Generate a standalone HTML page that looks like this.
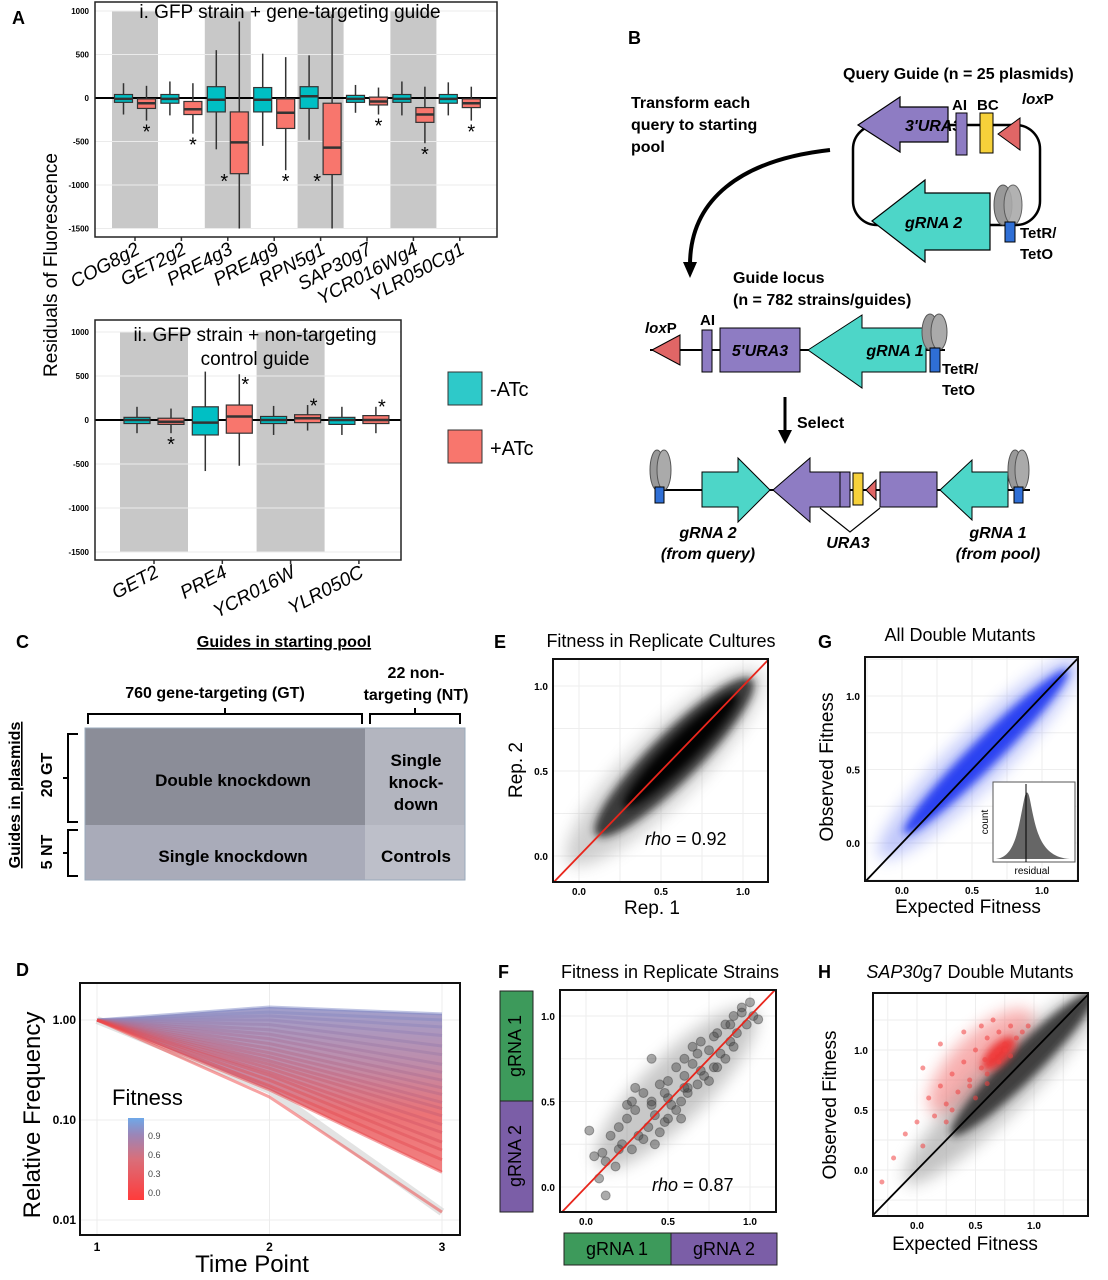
<!DOCTYPE html>
<html><head><meta charset="utf-8"><style>
html,body{margin:0;padding:0;background:#fff;width:1108px;height:1280px;overflow:hidden;}
svg{display:block;font-family:"Liberation Sans",Arial,sans-serif;}
</style></head><body>
<svg id="fig" width="1108" height="1280" viewBox="0 0 1108 1280" xmlns="http://www.w3.org/2000/svg">
<defs>
<filter id="blur4" x="-50%" y="-50%" width="200%" height="200%"><feGaussianBlur stdDeviation="4"/></filter>
<filter id="blur8" x="-50%" y="-50%" width="200%" height="200%"><feGaussianBlur stdDeviation="8"/></filter>
<linearGradient id="cbar" x1="0" y1="1" x2="0" y2="0"><stop offset="0" stop-color="#ff3b3b"/><stop offset="0.5" stop-color="#d96f7a"/><stop offset="0.8" stop-color="#9a86b8"/><stop offset="1" stop-color="#6fa8e8"/></linearGradient>
<linearGradient id="fanG" x1="0" y1="0" x2="0" y2="1"><stop offset="0" stop-color="#8f8fc4"/><stop offset="0.35" stop-color="#b4789a"/><stop offset="0.65" stop-color="#e85a5e"/><stop offset="1" stop-color="#f06a6a"/></linearGradient>
</defs>

<g font-weight="bold" font-size="18">
<text x="12" y="24">A</text><text x="628" y="44">B</text><text x="16" y="648">C</text>
<text x="16" y="976">D</text><text x="494" y="648">E</text><text x="498" y="978">F</text>
<text x="818" y="648">G</text><text x="818" y="978">H</text>
</g>

<g id="panelA"></g>
<text x="57" y="265" font-size="19" text-anchor="middle" transform="rotate(-90 57 265)">Residuals of Fluorescence</text>
<rect x="448" y="372" width="34" height="33" fill="#2ec9c9" stroke="#333"/>
<text x="490" y="396" font-size="20">-ATc</text>
<rect x="448" y="430" width="34" height="33" fill="#f8766d" stroke="#333"/>
<text x="490" y="455" font-size="20">+ATc</text>

<g id="panelB" font-weight="bold">
<text x="843" y="79" font-size="16">Query Guide (n = 25 plasmids)</text>
<text x="631" y="108" font-size="16">Transform each</text>
<text x="631" y="130" font-size="16">query to starting</text>
<text x="631" y="152" font-size="16">pool</text>
<rect x="853" y="125" width="187" height="100" rx="24" fill="none" stroke="#000" stroke-width="2.5"/>
<polygon points="858,125 900,97 900,107 948,107 948,142 900,142 900,152" fill="#8e7cc3" stroke="#000" stroke-width="1.2"/>
<text x="905" y="131" font-size="16" font-style="italic">3'URA3</text>
<rect x="956" y="113" width="11" height="42" fill="#8e7cc3" stroke="#000"/>
<text x="952" y="110" font-size="15">AI</text>
<rect x="980" y="113" width="13" height="40" fill="#f6d13a" stroke="#000"/>
<text x="977" y="110" font-size="15">BC</text>
<polygon points="998,134 1020,118 1020,150" fill="#e06666" stroke="#000"/>
<text x="1022" y="104" font-size="15"><tspan font-style="italic">lox</tspan>P</text>
<polygon points="872,221 925,180 925,193 990,193 990,250 925,250 925,262" fill="#4dd6c8" stroke="#000" stroke-width="1.2"/>
<text x="905" y="228" font-size="16" font-style="italic">gRNA 2</text>
<ellipse cx="1003" cy="205" rx="9" ry="20" fill="#999" stroke="#555"/><ellipse cx="1013" cy="205" rx="9" ry="20" fill="#aaa" stroke="#555" opacity="0.9"/>
<rect x="1005" y="222" width="10" height="20" fill="#2f6fd6" stroke="#000"/>
<text x="1020" y="238" font-size="15">TetR/</text><text x="1020" y="259" font-size="15">TetO</text>
<path d="M830,150 C740,160 690,200 690,265" fill="none" stroke="#000" stroke-width="4"/>
<polygon points="683,262 697,262 690,278" fill="#000"/>
<text x="733" y="283" font-size="16">Guide locus</text>
<text x="733" y="305" font-size="16">(n = 782 strains/guides)</text>
<line x1="650" y1="350" x2="945" y2="350" stroke="#000" stroke-width="2"/>
<polygon points="652,350 680,335 680,365" fill="#e06666" stroke="#000"/>
<text x="645" y="333" font-size="15"><tspan font-style="italic">lox</tspan>P</text>
<text x="700" y="325" font-size="15">AI</text>
<rect x="702" y="330" width="10" height="42" fill="#8e7cc3" stroke="#000"/>
<rect x="720" y="328" width="80" height="44" fill="#8e7cc3" stroke="#000"/>
<text x="760" y="356" font-size="16" font-style="italic" text-anchor="middle">5'URA3</text>
<polygon points="808,350 862,315 862,328 926,328 926,372 862,372 862,388" fill="#4dd6c8" stroke="#000"/>
<text x="895" y="356" font-size="16" font-style="italic" text-anchor="middle">gRNA 1</text>
<ellipse cx="930" cy="332" rx="8" ry="18" fill="#999" stroke="#555"/><ellipse cx="939" cy="332" rx="8" ry="18" fill="#aaa" stroke="#555"/>
<rect x="930" y="348" width="10" height="24" fill="#2f6fd6" stroke="#000"/>
<text x="942" y="374" font-size="15">TetR/</text><text x="942" y="395" font-size="15">TetO</text>
<line x1="785" y1="397" x2="785" y2="432" stroke="#000" stroke-width="3"/>
<polygon points="778,430 792,430 785,444" fill="#000"/>
<text x="797" y="428" font-size="16">Select</text>
<line x1="660" y1="490" x2="1030" y2="490" stroke="#000" stroke-width="2"/>
<ellipse cx="657" cy="470" rx="7" ry="20" fill="#999" stroke="#555"/><ellipse cx="664" cy="470" rx="7" ry="20" fill="#aaa" stroke="#555"/>
<rect x="655" y="487" width="9" height="16" fill="#2f6fd6" stroke="#000"/>
<polygon points="702,472 738,472 738,458 770,490 738,522 738,507 702,507" fill="#4dd6c8" stroke="#000"/>
<polygon points="773,490 810,458 810,472 848,472 848,507 810,507 810,522" fill="#8e7cc3" stroke="#000"/>
<rect x="840" y="472" width="10" height="35" fill="#8e7cc3" stroke="#000"/>
<rect x="853" y="473" width="10" height="32" fill="#f6d13a" stroke="#000"/>
<polygon points="866,490 876,480 876,500" fill="#e06666" stroke="#000"/>
<rect x="880" y="472" width="57" height="35" fill="#8e7cc3" stroke="#000"/>
<polygon points="940,490 972,460 972,472 1008,472 1008,507 972,507 972,520" fill="#4dd6c8" stroke="#000"/>
<ellipse cx="1015" cy="470" rx="7" ry="20" fill="#999" stroke="#555"/><ellipse cx="1022" cy="470" rx="7" ry="20" fill="#aaa" stroke="#555"/>
<rect x="1014" y="487" width="9" height="16" fill="#2f6fd6" stroke="#000"/>
<polyline points="820,508 850,532 880,508" fill="none" stroke="#000" stroke-width="1.2"/>
<text x="848" y="548" font-size="16" font-style="italic" text-anchor="middle">URA3</text>
<text x="708" y="538" font-size="16" font-style="italic" text-anchor="middle">gRNA 2</text>
<text x="708" y="559" font-size="16" font-style="italic" text-anchor="middle">(from query)</text>
<text x="998" y="538" font-size="16" font-style="italic" text-anchor="middle">gRNA 1</text>
<text x="998" y="559" font-size="16" font-style="italic" text-anchor="middle">(from pool)</text>
</g>

<g font-weight="bold">
<text x="284" y="647" font-size="16" text-anchor="middle" text-decoration="underline">Guides in starting pool</text>
<text x="215" y="698" font-size="16" text-anchor="middle">760 gene-targeting (GT)</text>
<text x="416" y="678" font-size="16" text-anchor="middle">22 non-</text>
<text x="416" y="700" font-size="16" text-anchor="middle">targeting (NT)</text>
<path d="M88,724 v-10 h274 v10 M225,714 v-6 M370,724 v-10 h90 v10 M415,714 v-6" fill="none" stroke="#000" stroke-width="2"/>
<rect x="85" y="728" width="280" height="97" fill="#8b8d98"/>
<rect x="365" y="728" width="100" height="97" fill="#b3b5bf"/>
<rect x="85" y="825" width="280" height="55" fill="#a9abb9"/>
<rect x="365" y="825" width="100" height="55" fill="#bdbfc9"/>
<rect x="85" y="728" width="380" height="152" fill="none" stroke="#9ab" stroke-width="1"/>
<text x="233" y="786" font-size="17" text-anchor="middle">Double knockdown</text>
<text x="416" y="766" font-size="17" text-anchor="middle">Single</text>
<text x="416" y="788" font-size="17" text-anchor="middle">knock-</text>
<text x="416" y="810" font-size="17" text-anchor="middle">down</text>
<text x="233" y="862" font-size="17" text-anchor="middle">Single knockdown</text>
<text x="416" y="862" font-size="17" text-anchor="middle">Controls</text>
<text x="20" y="795" font-size="16" text-anchor="middle" text-decoration="underline" transform="rotate(-90 20 795)">Guides in plasmids</text>
<text x="52" y="775" font-size="16" text-anchor="middle" transform="rotate(-90 52 775)">20 GT</text>
<text x="52" y="852" font-size="16" text-anchor="middle" transform="rotate(-90 52 852)">5 NT</text>
<path d="M78,734 h-10 v88 h10 M68,778 h-5 M78,830 h-10 v46 h10 M68,853 h-5" fill="none" stroke="#000" stroke-width="2"/>
</g>

<g id="panelD"></g>
<g id="panelE"></g>
<g id="panelG"></g>
<g id="panelF"></g>
<g id="panelH"></g>
</svg>

<script>
// ---------------- Panel A data ----------------
const genesA = ["COG8g2","GET2g2","PRE4g3","PRE4g9","RPN5g1","SAP30g7","YCR016Wg4","YLR050Cg1"];
const cyanQ1 = [-50,-60,-160,-160,-120,-50,-50,-60];
const cyanMed = [-10,-10,-20,-20,20,-10,-10,-10];
const cyanQ3 = [40,40,130,120,130,30,40,40];
const cyanLo = [-190,-200,-590,-550,-480,-170,-200,-200];
const cyanHi = [170,190,550,510,490,150,190,180];
const redQ1 = [-120,-190,-870,-350,-880,-80,-280,-110];
const redMed = [-60,-130,-510,-170,-570,-40,-190,-60];
const redQ3 = [-10,-40,-160,-10,-60,10,-110,-10];
const redLo = [-260,-410,-1500,-830,-1500,-190,-520,-260];
const redHi = [140,170,880,470,960,120,130,130];

const genesA2 = ["GET2","PRE4","YCR016W","YLR050C"];
const cyan2Q1 = [-40,-170,-40,-50];
const cyan2Med = [0,-30,0,0];
const cyan2Q3 = [30,150,40,30];
const cyan2Lo = [-150,-580,-170,-170];
const cyan2Hi = [150,550,160,150];
const red2Q1 = [-50,-150,-30,-40];
const red2Med = [-20,40,20,0];
const red2Q3 = [20,170,60,50];
const red2Lo = [-150,-520,-120,-150];
const red2Hi = [130,520,170,150];
const red2StarAbove = [false,true,true,true];
const ticksA = [1000,500,0,-500,-1000,-1500];

// ---------------- Panel D data ----------------
const fitD = [1.0,0.95,0.9,0.85,0.8,0.75,0.7,0.65,0.6,0.55,0.5,0.45,0.4,0.35,0.3,0.25,0.2,0.15,0.1,0.05,0.0];
const freqT2 = [1.35,1.2,1.1,1.0,0.9,0.8,0.72,0.65,0.58,0.52,0.47,0.43,0.39,0.36,0.33,0.3,0.28,0.25,0.22,0.2,0.17];
const freqT3 = [1.15,1.0,0.85,0.7,0.55,0.45,0.36,0.3,0.25,0.21,0.18,0.15,0.13,0.11,0.09,0.075,0.06,0.05,0.04,0.03,0.012];
const ticksDy = [1.0,0.1,0.01];
const tickDyLabels = ["1.00","0.10","0.01"];
const ticksDx = [1,2,3];

// ---------------- Scatter data ----------------
const ticks01 = [0.0,0.5,1.0];
const tickLabels01 = ["0.0","0.5","1.0"];
const fX = [0.02,0.05,0.08,0.1,0.12,0.15,0.18,0.2,0.22,0.25,0.28,0.3,0.32,0.35,0.38,0.4,0.42,0.45,0.48,0.5,0.52,0.55,0.58,0.6,0.62,0.65,0.68,0.7,0.72,0.75,0.78,0.8,0.82,0.85,0.88,0.9,0.92,0.95,0.98,1.0,1.02,0.3,0.45,0.55,0.65,0.75,0.4,0.6,0.7,0.85,0.5,0.35,0.25,0.62,0.78,0.9,0.58,0.48,0.68,0.8,0.12,0.2,0.28,0.4,0.5,0.6,0.95,1.05,0.88,0.42];
const fY = [0.33,0.18,0.05,0.2,0.15,0.3,0.12,0.35,0.25,0.4,0.22,0.45,0.3,0.55,0.35,0.5,0.42,0.6,0.38,0.62,0.48,0.7,0.5,0.75,0.55,0.72,0.6,0.85,0.65,0.8,0.7,0.9,0.78,0.95,0.85,1.0,0.9,1.05,0.95,1.08,1.0,0.58,0.32,0.45,0.82,0.62,0.48,0.65,0.68,0.75,0.52,0.28,0.48,0.58,0.88,0.82,0.4,0.55,0.78,0.7,-0.05,0.22,0.5,0.75,0.4,0.58,1.02,0.98,0.95,0.25];
const hRedX = [-0.3,-0.2,-0.1,0.0,0.05,0.1,0.15,0.2,0.25,0.3,0.35,0.4,0.45,0.5,0.55,0.6,0.65,0.7,0.75,0.8,0.85,0.9,0.95,0.3,0.45,0.55,0.6,0.7,0.8,0.65,0.05,0.2,0.4,0.5,0.6,0.7,0.75,0.68,0.58,0.25];
const hRedY = [-0.1,0.1,0.3,0.4,0.2,0.6,0.45,0.7,0.55,0.8,0.65,0.9,0.75,1.0,0.85,1.1,0.95,1.15,1.05,1.2,1.1,1.15,1.2,0.5,0.7,1.2,0.8,1.0,0.95,1.25,0.85,1.05,1.15,0.6,0.72,0.9,1.0,0.98,0.92,0.4];

const NS='http://www.w3.org/2000/svg';
function mk(parent, tag, attrs, txt){const e=document.createElementNS(NS,tag);for(const k in attrs)e.setAttribute(k,attrs[k]);if(txt!==undefined)e.textContent=txt;parent.appendChild(e);return e;}
const linear=(d0,d1,r0,r1)=>v=>r0+(v-d0)*(r1-r0)/(d1-d0);
const defs=document.querySelector('defs');

// ---------- Panel A ----------
(function(){
  const g=document.getElementById('panelA');
  const y=linear(0,1000,98,11);
  const x0=95,x1=497,yTop=2,yBot=237;
  let e=mk(g,'rect',{x:x0,y:yTop,width:x1-x0,height:yBot-yTop,fill:'#fff'});
  
  
  const cx=i=>135+i*46.4;
  genesA.forEach((n,i)=>{ if(i%2===0){
    e=mk(g,'rect',{x:cx(i)-23,y:y(1000),width:46,height:y(-1500)-y(1000),fill:'#c8c8c8'});
    
    
  }});
  ticksA.forEach(t=>{
    e=mk(g,'line',{x1:x0,x2:x1,y1:y(t),y2:y(t),stroke:'#ebebeb'});
    
    
    e=mk(g,'text',{x:x0-6,y:y(t)+3,'font-size':8,'text-anchor':'end','font-weight':'bold'},String(t));
    
    
  });
  e=mk(g,'line',{x1:x0,x2:x1,y1:y(0),y2:y(0),stroke:'#000','stroke-width':2});
  
  
  function box(c,q1,m,q3,lo,hi,fill,w){
    let b=mk(g,'line',{x1:c,x2:c,y1:y(hi),y2:y(lo),stroke:'#333','stroke-width':1.5});
    
    
    b=mk(g,'rect',{x:c-w/2,y:y(q3),width:w,height:y(q1)-y(q3),fill:fill,stroke:'#333','stroke-width':1.2});
    
    
    b=mk(g,'line',{x1:c-w/2,x2:c+w/2,y1:y(m),y2:y(m),stroke:'#333','stroke-width':2.5});
    
    
  }
  genesA.forEach((n,i)=>{
    box(cx(i)-11.5,cyanQ1[i],cyanMed[i],cyanQ3[i],cyanLo[i],cyanHi[i],'#00bfc4',18);
    box(cx(i)+11.5,redQ1[i],redMed[i],redQ3[i],redLo[i],redHi[i],'#f8766d',18);
    let s=mk(g,'text',{x:cx(i)+11.5 - (redLo[i]<=-1500?15:0),y:Math.min(y(redLo[i]),y(-1450))+(redLo[i]<=-1500?-36:18),'font-size':20,'text-anchor':'middle'},'*');
    
    
    let tk=mk(g,'line',{x1:cx(i),x2:cx(i),y1:yBot,y2:yBot+4,stroke:'#333','stroke-width':1.5});
    
    
    let lb=mk(g,'text',{x:cx(i)+6,y:yBot+16,'font-size':19,'font-style':'italic','text-anchor':'end',transform:`rotate(-28 ${cx(i)+6} ${yBot+16})`},n);
    
    
  });
  e=mk(g,'rect',{x:x0,y:yTop,width:x1-x0,height:yBot-yTop,fill:'none',stroke:'#222','stroke-width':1.5});
  
  
  e=mk(g,'text',{x:290,y:18,'font-size':19,'text-anchor':'middle'},'i. GFP strain + gene-targeting guide');
  
  

  const y2=linear(0,1000,420,332);
  const X0=95,X1=401,YT=320,YB=560;
  const c2=i=>154+i*68.3;
  e=mk(g,'rect',{x:X0,y:YT,width:X1-X0,height:YB-YT,fill:'#fff'});
  
  
  genesA2.forEach((n,i)=>{ if(i%2===0){
    e=mk(g,'rect',{x:c2(i)-34,y:y2(1000),width:68,height:y2(-1500)-y2(1000),fill:'#c8c8c8'});
    
    
  }});
  ticksA.forEach(t=>{
    e=mk(g,'line',{x1:X0,x2:X1,y1:y2(t),y2:y2(t),stroke:'#ebebeb'});
    
    
    e=mk(g,'text',{x:X0-6,y:y2(t)+3,'font-size':8,'text-anchor':'end','font-weight':'bold'},String(t));
    
    
  });
  e=mk(g,'line',{x1:X0,x2:X1,y1:y2(0),y2:y2(0),stroke:'#000','stroke-width':2});
  
  
  function box2(c,q1,m,q3,lo,hi,fill,w){
    let b=mk(g,'line',{x1:c,x2:c,y1:y2(hi),y2:y2(lo),stroke:'#333','stroke-width':1.5});
    
    
    b=mk(g,'rect',{x:c-w/2,y:y2(q3),width:w,height:y2(q1)-y2(q3),fill:fill,stroke:'#333','stroke-width':1.2});
    
    
    b=mk(g,'line',{x1:c-w/2,x2:c+w/2,y1:y2(m),y2:y2(m),stroke:'#333','stroke-width':2.5});
    
    
  }
  genesA2.forEach((n,i)=>{
    box2(c2(i)-17,cyan2Q1[i],cyan2Med[i],cyan2Q3[i],cyan2Lo[i],cyan2Hi[i],'#00bfc4',26);
    box2(c2(i)+17,red2Q1[i],red2Med[i],red2Q3[i],red2Lo[i],red2Hi[i],'#f8766d',26);
    const sy=red2StarAbove[i]? y2(red2Q3[i])-6+ (i===1?-12:0) : y2(red2Lo[i])+18;
    let s=mk(g,'text',{x:c2(i)+17+(red2StarAbove[i]?6:0),y:sy+ (red2StarAbove[i]?4:0),'font-size':20,'text-anchor':'middle'},'*');
    
    
    let tk=mk(g,'line',{x1:c2(i),x2:c2(i),y1:YB,y2:YB+4,stroke:'#333','stroke-width':1.5});
    
    
    let lb=mk(g,'text',{x:c2(i)+6,y:YB+16,'font-size':19,'font-style':'italic','text-anchor':'end',transform:`rotate(-28 ${c2(i)+6} ${YB+16})`},n);
    
    
  });
  e=mk(g,'rect',{x:X0,y:YT,width:X1-X0,height:YB-YT,fill:'none',stroke:'#222','stroke-width':1.5});
  
  
  e=mk(g,'text',{x:255,y:341,'font-size':19,'text-anchor':'middle'},'ii. GFP strain + non-targeting');
  
  
  e=mk(g,'text',{x:255,y:365,'font-size':19,'text-anchor':'middle'},'control guide');
  
  
})();

// ---------- Panel D ----------
(function(){
  const g=document.getElementById('panelD');
  const X0=80,X1=460,Y0=983,Y1=1235;
  const x=linear(1,3,97,442);
  const y=v=>1020-100*Math.log10(v);
  let e;
  ticksDx.forEach(t=>{
    e=mk(g,'line',{x1:x(t),x2:x(t),y1:Y0,y2:Y1,stroke:'#ececec'});
    
    
    e=mk(g,'text',{x:x(t),y:Y1+16,'font-size':12,'font-weight':'bold','text-anchor':'middle'},String(t));
    
    
  });
  ticksDy.forEach((t,i)=>{
    e=mk(g,'line',{x1:X0,x2:X1,y1:y(t),y2:y(t),stroke:'#ececec'});
    
    
    e=mk(g,'text',{x:X0-4,y:y(t)+4,'font-size':12,'font-weight':'bold','text-anchor':'end'},tickDyLabels[i]);
    
    
  });
  const n=fitD.length;
  e=mk(g,'polyline',{points:`${x(1)},${y(1)} ${x(2)},${y(0.2)} ${x(3)},${y(0.012)}`,fill:'none',stroke:'#d0d0d0','stroke-width':8,opacity:0.6});
  
  
  const fan=`${x(1)},${y(1)} ${x(2)},${y(freqT2[0])} ${x(3)},${y(freqT3[0])} ${x(3)},${y(freqT3[n-2])} ${x(2)},${y(freqT2[n-2])}`;
  e=mk(g,'polygon',{points:fan,fill:'url(#fanG)',opacity:0.85});
  
  
  fitD.forEach((f,i)=>{
    const r=Math.round(240-f*110), gg=Math.round(70+f*70), b=Math.round(70+f*130);
    let l=mk(g,'polyline',{points:`${x(1)},${y(1)} ${x(2)},${y(freqT2[i])} ${x(3)},${y(freqT3[i])}`,fill:'none',stroke:`rgb(${r},${gg},${b})`,'stroke-width':3,opacity:0.5});
    
    
  });
  e=mk(g,'rect',{x:X0,y:Y0,width:X1-X0,height:Y1-Y0,fill:'none',stroke:'#111','stroke-width':2});
  
  
  e=mk(g,'text',{x:112,y:1105,'font-size':22},'Fitness');
  
  
  e=mk(g,'rect',{x:128,y:1118,width:16,height:82,fill:'url(#cbar)'});
  
  
  ["0.9","0.6","0.3","0.0"].forEach((t,i)=>{
    e=mk(g,'text',{x:148,y:1139+i*19,'font-size':9,fill:'#444'},t);
    
    
  });
  e=mk(g,'text',{x:40,y:1115,'font-size':24,'text-anchor':'middle',transform:'rotate(-90 40 1115)'},'Relative Frequency');
  
  
  e=mk(g,'text',{x:252,y:1272,'font-size':24,'text-anchor':'middle'},'Time Point');
  
  
})();

// ---------- Scatter helper ----------
function scatterPanel(id,cfg){
  const g=document.getElementById(id);
  const x=linear(0,1,cfg.x0,cfg.x1), y=linear(0,1,cfg.y0,cfg.y1);
  const cp=mk(defs,'clipPath',{id:'clip-'+id});
  mk(cp,'rect',{x:cfg.L,y:cfg.T,width:cfg.R-cfg.L,height:cfg.B-cfg.T});
  let e=mk(g,'rect',{x:cfg.L,y:cfg.T,width:cfg.R-cfg.L,height:cfg.B-cfg.T,fill:'#fff'});
  
  
  const cl=mk(g,'g',{'clip-path':`url(#clip-${id})`});
  [-0.25,0,0.25,0.5,0.75,1,1.25].forEach(t=>{
    let l=mk(cl,'line',{x1:x(t),x2:x(t),y1:cfg.T,y2:cfg.B,stroke:'#eee'});
    
    
    l=mk(cl,'line',{x1:cfg.L,x2:cfg.R,y1:y(t),y2:y(t),stroke:'#eee'});
    
    
  });
  cfg.draw(cl,x,y);
  e=mk(cl,'line',{x1:x(-1),y1:y(-1),x2:x(2),y2:y(2),stroke:cfg.lineColor,'stroke-width':1.8});
  
  
  if(cfg.after) cfg.after(g,x,y);
  e=mk(g,'rect',{x:cfg.L,y:cfg.T,width:cfg.R-cfg.L,height:cfg.B-cfg.T,fill:'none',stroke:'#111','stroke-width':2});
  
  
  ticks01.forEach((t,i)=>{
    let a=mk(g,'text',{x:x(t),y:cfg.B+13,'font-size':10,'font-weight':'bold','text-anchor':'middle'},tickLabels01[i]);
    
    
    a=mk(g,'text',{x:cfg.L-5,y:y(t)+4,'font-size':10,'font-weight':'bold','text-anchor':'end'},tickLabels01[i]);
    
    
  });
  if(cfg.title){
    e=mk(g,'text',{x:cfg.tx,y:cfg.ty,'font-size':18,'text-anchor':'middle'});
    e.innerHTML=cfg.title;
    
    
  }
  if(cfg.xlab){
    e=mk(g,'text',{x:cfg.xlx,y:cfg.xly,'font-size':19,'text-anchor':'middle'},cfg.xlab);
    
    
  }
  if(cfg.ylab){
    e=mk(g,'text',{x:cfg.ylx,y:cfg.yly,'font-size':19,'text-anchor':'middle',transform:`rotate(-90 ${cfg.ylx} ${cfg.yly})`},cfg.ylab);
    
    
  }
  if(cfg.rho){
    e=mk(g,'text',{x:cfg.rx,y:cfg.ry,'font-size':18});
    e.innerHTML='<tspan font-style="italic">rho</tspan> = '+cfg.rho;
    
    
  }
}
function cloud(g,x,y,cx,cy,len,wid,color,op,filt){
  const px=x(cx),py=y(cy);
  const e=mk(g,'ellipse',{cx:px,cy:py,rx:len,ry:wid,fill:color,opacity:op,filter:filt,transform:`rotate(-45 ${px} ${py})`});
  
  
}

scatterPanel('panelE',{L:553,R:768,T:659,B:882,x0:579,x1:743,y0:856,y1:686,lineColor:'#e8261c',
  title:'Fitness in Replicate Cultures',tx:661,ty:647,xlab:'Rep. 1',xlx:652,xly:914,ylab:'Rep. 2',ylx:522,yly:770,rho:'0.92',rx:645,ry:845,
  draw:(g,x,y)=>{cloud(g,x,y,0.52,0.52,135,34,'#888',0.4,'url(#blur8)');cloud(g,x,y,0.58,0.58,110,24,'#222',0.85,'url(#blur4)');cloud(g,x,y,0.62,0.62,80,14,'#000',0.95,'url(#blur4)');}});
scatterPanel('panelG',{L:865,R:1078,T:657,B:881,x0:902,x1:1042,y0:843,y1:696,lineColor:'#000',
  title:'All Double Mutants',tx:960,ty:641,xlab:'Expected Fitness',xlx:968,xly:913,ylab:'Observed Fitness',ylx:833,yly:767,
  draw:(g,x,y)=>{cloud(g,x,y,0.55,0.58,140,26,'#7080f4',0.45,'url(#blur8)');cloud(g,x,y,0.6,0.62,115,14,'#1a35f0',0.9,'url(#blur4)');},
  after:(g)=>{
    let r=mk(g,'rect',{x:993,y:782,width:82,height:80,fill:'#fff',stroke:'#555'});
    
    
    let p=mk(g,'path',{d:'M996,859 C1015,857 1018,830 1024,800 C1026,790 1028,790 1030,800 C1036,830 1040,857 1070,859 Z',fill:'#666'});
    
    
    p=mk(g,'line',{x1:1026,x2:1026,y1:784,y2:862,stroke:'#000'});
    
    
    p=mk(g,'text',{x:1032,y:874,'font-size':10,'text-anchor':'middle'},'residual');
    
    
    p=mk(g,'text',{x:988,y:822,'font-size':10,'text-anchor':'middle',transform:'rotate(-90 988 822)'},'count');
    
    
  }});
scatterPanel('panelF',{L:560,R:776,T:990,B:1212,x0:586,x1:750,y0:1187,y1:1016,lineColor:'#e8261c',
  title:'Fitness in Replicate Strains',tx:670,ty:978,rho:'0.87',rx:652,ry:1191,
  draw:(g,x,y)=>{cloud(g,x,y,0.55,0.58,110,32,'#777',0.4,'url(#blur8)');
    fX.forEach((v,i)=>{let c=mk(g,'circle',{cx:x(v),cy:y(fY[i]),r:4.5,fill:'#444','fill-opacity':0.45,stroke:'#333','stroke-opacity':0.4});
      
      });}});
scatterPanel('panelH',{L:873,R:1088,T:993,B:1216,x0:917,x1:1034,y0:1170,y1:1050,lineColor:'#000',
  title:'<tspan font-style="italic">SAP30</tspan>g7 Double Mutants',tx:970,ty:978,xlab:'Expected Fitness',xlx:965,xly:1250,ylab:'Observed Fitness',ylx:836,yly:1105,
  draw:(g,x,y)=>{cloud(g,x,y,0.55,0.9,70,28,'#f06060',0.5,'url(#blur8)');
    cloud(g,x,y,0.75,0.72,140,26,'#888',0.5,'url(#blur8)');cloud(g,x,y,0.9,0.88,100,16,'#333',0.9,'url(#blur4)');
    cloud(g,x,y,0.7,0.97,22,10,'#f02828',0.85,'url(#blur4)');
    hRedX.forEach((v,i)=>{let c=mk(g,'circle',{cx:x(v),cy:y(hRedY[i]),r:2.5,fill:'#f04040','fill-opacity':0.55});
      
      });}});

(function(){
  const s=document.getElementById('fig');
  const items=[[500,991,33,110,'#3d9a5b','gRNA 1',516,1046,true],[500,1101,33,111,'#7b5ea7','gRNA 2',516,1156,true],
    [564,1233,107,32,'#3d9a5b','gRNA 1',617,1250,false],[671,1233,106,32,'#7b5ea7','gRNA 2',724,1250,false]];
  items.forEach(it=>{
    let r=mk(s,'rect',{x:it[0],y:it[1],width:it[2],height:it[3],fill:it[4],stroke:'#222'});
    
    
    let t=mk(s,'text',{x:it[6],y:it[7],'font-size':18,'text-anchor':'middle','dominant-baseline':'middle',transform:it[8]?`rotate(-90 ${it[6]} ${it[7]})`:''},it[5]);
    
    
  });
})();
</script>
</body></html>
